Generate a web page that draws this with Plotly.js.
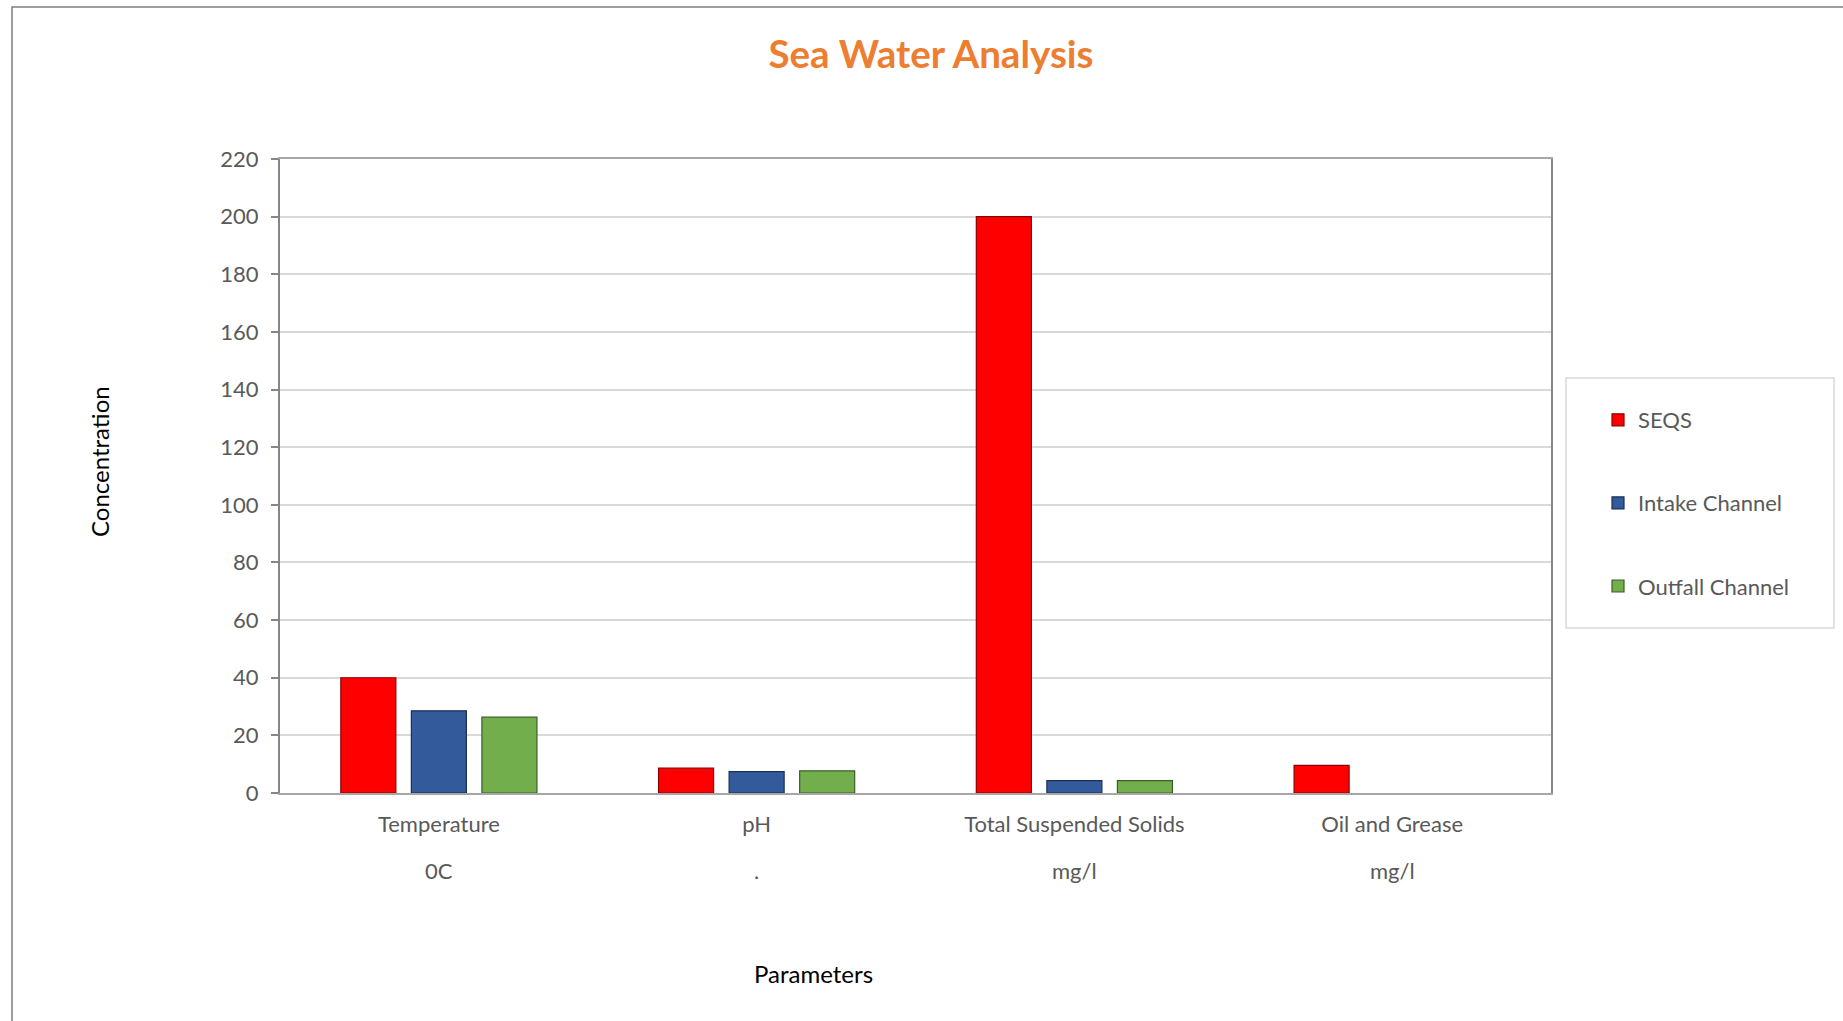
<!DOCTYPE html>
<html>
<head>
<meta charset="utf-8">
<script src="https://cdn.plot.ly/plotly-3.0.1.min.js"></script>
<style>
  html, body { margin: 0; padding: 0; background: #ffffff; }
  #chart { width: 1843px; height: 1021px; }
</style>
</head>
<body>
<div id="chart"></div>
<script>
// ---- data ----
const categories = ["Temperature", "pH", "Total Suspended Solids", "Oil and Grease"];
const units = ["0C", ".", "mg/l", "mg/l"];
const seriesNames = ["SEQS", "Intake Channel", "Outfall Channel"];
const seqs = [40, 8.6, 200, 9.6];
const intakeChannel = [28.5, 7.4, 4.3, null];
const outfallChannel = [26.3, 7.7, 4.3, null];
const yTicks = [0, 20, 40, 60, 80, 100, 120, 140, 160, 180, 200, 220];

// ---- styling ----
const colors = ["#FF0000", "#335B9C", "#73AE4C"];
const edgeColors = ["#8B0000", "#1B2F55", "#3B5E26"];
const fontFamily = "Lato, 'Open Sans', sans-serif";

const idx = categories.map((_, i) => i);
const seriesValues = [seqs, intakeChannel, outfallChannel];

const traces = seriesValues.map((vals, s) => ({
  type: "bar",
  name: seriesNames[s],
  x: idx,
  y: vals,
  legendgroup: "g" + s,
  marker: { color: colors[s], line: { color: edgeColors[s], width: 1.2 } },
  hoverinfo: "x+y+name"
}));

// Pixel geometry helpers (plot area 280..1551 x, 159..793 y)
const L = 280, R = 1551, T = 159, B = 793;
const px = x => (x - L) / (R - L);
const py = y => (B - y) / (B - T);

const unitAnnotations = units.map((u, i) => ({
  text: u,
  xref: "x", yref: "paper",
  x: idx[i], y: py(871),
  xanchor: "center", yanchor: "middle",
  showarrow: false,
  font: { family: fontFamily, size: 22, color: "#595959" }
}));

const layout = {
  width: 1843,
  height: 1021,
  autosize: false,
  margin: { l: L, r: 1843 - R, t: T, b: 1021 - B, pad: 0 },
  paper_bgcolor: "#ffffff",
  plot_bgcolor: "#ffffff",
  font: { family: fontFamily, color: "#595959", size: 22 },
  barmode: "group",
  bargap: 0.334,
  bargroupgap: 0.22,
  title: {
    text: "<b>Sea Water Analysis</b>",
    font: { family: fontFamily, size: 38.5, color: "#ED7D31" },
    xref: "paper", x: px(931), xanchor: "center",
    yref: "container", y: 1 - 55 / 1021, yanchor: "middle"
  },
  xaxis: {
    type: "linear",
    range: [-0.5, 3.5],
    tickvals: idx,
    ticktext: categories,
    ticks: "",
    showgrid: false,
    zeroline: false,
    showline: true,
    linecolor: "#A6A6A6",
    linewidth: 2,
    mirror: true,
    tickfont: { family: fontFamily, size: 22, color: "#595959" },
    ticklabelstandoff: 11,
    fixedrange: true
  },
  yaxis: {
    range: [0, 220],
    tickvals: yTicks,
    ticktext: yTicks.map(String),
    ticks: "outside",
    ticklen: 7,
    tickwidth: 1.5,
    tickcolor: "#868686",
    showgrid: true,
    gridcolor: "#D9D9D9",
    gridwidth: 1.5,
    zeroline: false,
    showline: true,
    linecolor: "#868686",
    linewidth: 2,
    mirror: true,
    tickfont: { family: fontFamily, size: 22, color: "#595959" },
    ticklabelstandoff: 8,
    fixedrange: true
  },
  showlegend: true,
  legend: {
    x: px(1598), xanchor: "left",
    y: py(399), yanchor: "top",
    bgcolor: "rgba(0,0,0,0)",
    borderwidth: 0,
    font: { family: fontFamily, size: 22, color: "#595959" },
    tracegroupgap: 51.5,
    traceorder: "grouped",
    itemclick: false,
    itemdoubleclick: false
  },
  annotations: [
    {
      text: "Concentration",
      xref: "paper", yref: "paper",
      x: px(99), y: py(462),
      xanchor: "center", yanchor: "middle",
      textangle: -90,
      showarrow: false,
      font: { family: fontFamily, size: 24, color: "#000000" }
    },
    {
      text: "Parameters",
      xref: "paper", yref: "paper",
      x: px(813), y: py(973),
      xanchor: "center", yanchor: "middle",
      showarrow: false,
      font: { family: fontFamily, size: 24, color: "#000000" }
    }
  ].concat(unitAnnotations),
  shapes: [
    {
      type: "rect", xref: "paper", yref: "paper",
      x0: px(1566), x1: px(1834), y0: py(628), y1: py(378),
      line: { color: "#D9D9D9", width: 1.5 },
      fillcolor: "rgba(0,0,0,0)",
      layer: "below"
    },
    {
      type: "rect", xref: "paper", yref: "paper",
      x0: px(12), x1: px(1900), y0: py(1100), y1: py(7),
      line: { color: "#7F7F7F", width: 1.5 },
      fillcolor: "rgba(0,0,0,0)",
      layer: "below"
    }
  ]
};

Plotly.newPlot("chart", traces, layout, { displayModeBar: false, responsive: false });
</script>
</body>
</html>
